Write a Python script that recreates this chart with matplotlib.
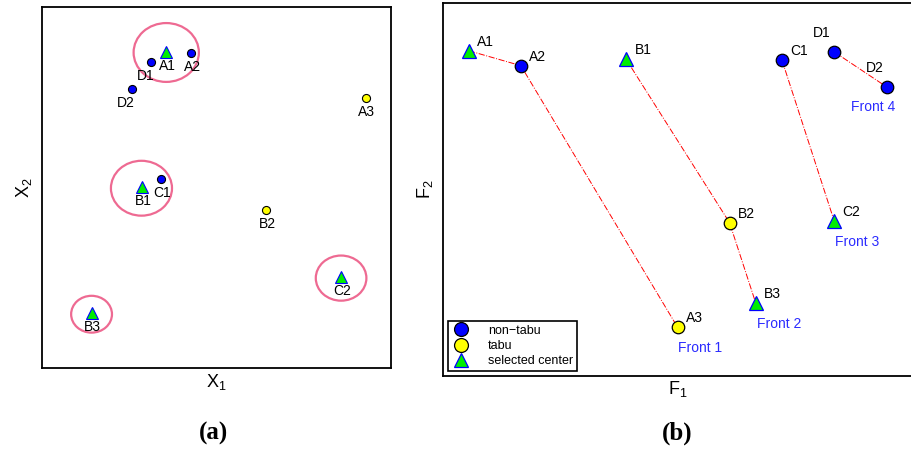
import numpy as np
import matplotlib
matplotlib.use('Agg')
import matplotlib.pyplot as plt
from matplotlib.patches import Ellipse
from matplotlib.lines import Line2D

plt.rcParams['font.family'] = ['Liberation Sans', 'DejaVu Sans']
plt.rcParams['mathtext.default'] = 'regular'

# decision space (a)
dec_names = ['A1', 'A2', 'A3', 'B1', 'B2', 'B3', 'C1', 'C2', 'D1', 'D2']
dec_x = [3.56, 4.28, 9.28, 2.86, 6.42, 1.42, 3.42, 8.56, 3.13, 2.57]
dec_y = [8.75, 8.73, 7.48, 5.01, 4.37, 1.52, 5.24, 2.51, 8.48, 7.73]
kind = ['center', 'nontabu', 'tabu', 'center', 'tabu', 'center',
        'nontabu', 'center', 'nontabu', 'nontabu']

# neighbourhood regions around the selected centers
reg_x = [3.56, 2.85, 8.57, 1.42]
reg_y = [8.74, 4.98, 2.49, 1.49]
reg_w = [1.87, 1.75, 1.45, 1.17]
reg_h = [1.63, 1.52, 1.25, 1.02]

# objective space (b)
obj_x = [0.55, 1.66, 5.00, 3.90, 6.11, 6.67, 7.23, 8.34, 8.34, 9.46]
obj_y = [8.72, 8.32, 1.31, 8.50, 4.11, 1.95, 8.46, 4.16, 8.69, 7.75]
fronts = [['A1', 'A2', 'A3'], ['B1', 'B2', 'B3'], ['C1', 'C2'], ['D1', 'D2']]
front_names = ['Front 1', 'Front 2', 'Front 3', 'Front 4']

styles = {
    'nontabu': dict(marker='o', mfc='#0000ff', mec='black'),
    'tabu': dict(marker='o', mfc='#ffff00', mec='black'),
    'center': dict(marker='^', mfc='#00ee00', mec='#0000ff'),
}

fig = plt.figure(figsize=(9.11, 4.49), dpi=100)
W, H = 911.0, 449.0
ax1 = fig.add_axes([42 / W, (H - 368) / H, 349 / W, 361 / H])
ax2 = fig.add_axes([443 / W, (H - 376) / H, 469 / W, 373 / H])

for ax in (ax1, ax2):
    ax.set_xlim(0, 10)
    ax.set_ylim(0, 10)
    ax.set_xticks([])
    ax.set_yticks([])
    for s in ax.spines.values():
        s.set_linewidth(1.3)

# --- (a) ---
for cx, cy, w, h in zip(reg_x, reg_y, reg_w, reg_h):
    ax1.add_patch(Ellipse((cx, cy), w, h, fill=False, ec='#ee6a92', lw=1.6))

for n, x, y, k in zip(dec_names, dec_x, dec_y, kind):
    ms = 8 if k == 'center' else 5.8
    ax1.plot(x, y, ls='none', ms=ms, mew=0.8, **styles[k])
    dx = -6 if n in ('D1', 'D2') else 1
    ax1.annotate(n, (x, y), xytext=(dx, -14), textcoords='offset pixels',
                 ha='center', va='center', fontsize=10)

ax1.set_xlabel('X$_1$', fontsize=13, labelpad=3)
ax1.set_ylabel('X$_2$', fontsize=13, labelpad=6)

# --- (b) ---
idx = {n: i for i, n in enumerate(dec_names)}
for front in fronts:
    ax2.plot([obj_x[idx[n]] for n in front], [obj_y[idx[n]] for n in front],
             ls='-.', color='red', lw=0.7, zorder=1)

for n, x, y, k in zip(dec_names, obj_x, obj_y, kind):
    ms = 10.5 if k == 'center' else 9
    ax2.plot(x, y, ls='none', ms=ms, mew=0.9, zorder=2, **styles[k])
    off = (-12, 19) if n in ('D1', 'D2') else (17, 9)
    ax2.annotate(n, (x, y), xytext=off, textcoords='offset pixels',
                 ha='center', va='center', fontsize=10)

for front, label in zip(fronts, front_names):
    last = idx[front[-1]]
    off = (-14, -20) if label == 'Front 4' else (23, -21)
    ax2.annotate(label, (obj_x[last], obj_y[last]), xytext=off,
                 textcoords='offset pixels', ha='center', va='center',
                 fontsize=10, color='#2b2bff')

handles = [Line2D([], [], ls='none', ms=10, mew=0.9, **styles[k])
           for k in ('nontabu', 'tabu', 'center')]
leg = ax2.legend(handles, ['non\u2212tabu', 'tabu', 'selected center'],
                 loc='lower left', bbox_to_anchor=(0.01, 0.014),
                 borderaxespad=0, fontsize=9, fancybox=False,
                 edgecolor='black', framealpha=1, handlelength=1.6,
                 handletextpad=1.3, labelspacing=0.25, borderpad=0.3)
leg.get_frame().set_linewidth(1.2)

ax2.set_xlabel('F$_1$', fontsize=13, labelpad=2)
ax2.set_ylabel('F$_2$', fontsize=13, labelpad=6)

fig.text(213 / W, 1 - 433 / H, '(a)', ha='center', va='center',
         fontsize=18, fontweight='bold', family='Liberation Serif')
fig.text(677 / W, 1 - 433 / H, '(b)', ha='center', va='center',
         fontsize=18, fontweight='bold', family='Liberation Serif')

fig.savefig('out.png', dpi=100)
